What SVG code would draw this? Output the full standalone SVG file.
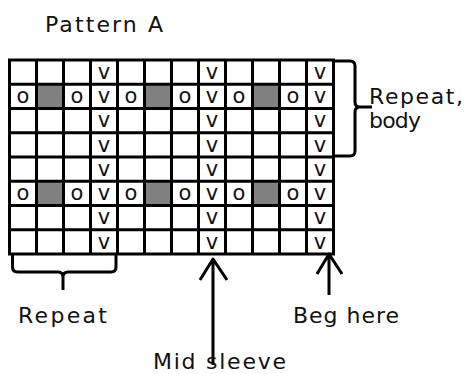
<svg xmlns="http://www.w3.org/2000/svg" width="468" height="374" viewBox="0 0 468 374">
<style>
.t{font-family:"DejaVu Sans","Liberation Sans",sans-serif;fill:#111}
.lab{font-size:22px}
.m{font-size:21px;text-anchor:middle}
.g{stroke:#000;stroke-width:3;fill:none}
.gray{fill:#808080}
.c{stroke:#000;stroke-width:3;fill:none;stroke-linecap:butt;stroke-linejoin:round}
</style>
<rect width="468" height="374" fill="#fff"/>
<text class="t lab" x="45" y="32" textLength="118" lengthAdjust="spacing">Pattern A</text>
<g id="chart">
<g id="shaded">
<rect class="gray" x="36.5" y="84.25" width="27" height="24.25"/>
<rect class="gray" x="144.5" y="84.25" width="27" height="24.25"/>
<rect class="gray" x="252.5" y="84.25" width="27" height="24.25"/>
<rect class="gray" x="36.5" y="181.25" width="27" height="24.25"/>
<rect class="gray" x="144.5" y="181.25" width="27" height="24.25"/>
<rect class="gray" x="252.5" y="181.25" width="27" height="24.25"/>
</g>
<g id="gridlines" class="g">
<path d="M9.5 60V254M36.5 60V254M63.5 60V254M90.5 60V254M117.5 60V254M144.5 60V254M171.5 60V254M198.5 60V254M225.5 60V254M252.5 60V254M279.5 60V254M306.5 60V254M333.5 60V254"/>
<path d="M8 60H335M8 84.25H335M8 108.5H335M8 132.75H335M8 157H335M8 181.25H335M8 205.5H335M8 229.75H335M8 254H335"/>
</g>
<g id="symbols" class="t m">
<text x="104" y="79">v</text><text x="212" y="79">v</text><text x="320" y="79">v</text>
<text x="23" y="103">o</text><text x="77" y="103">o</text><text x="104" y="103">v</text><text x="131" y="103">o</text><text x="185" y="103">o</text><text x="212" y="103">v</text><text x="239" y="103">o</text><text x="293" y="103">o</text><text x="320" y="103">v</text>
<text x="104" y="127">v</text><text x="212" y="127">v</text><text x="320" y="127">v</text>
<text x="104" y="152">v</text><text x="212" y="152">v</text><text x="320" y="152">v</text>
<text x="104" y="176">v</text><text x="212" y="176">v</text><text x="320" y="176">v</text>
<text x="23" y="200">o</text><text x="77" y="200">o</text><text x="104" y="200">v</text><text x="131" y="200">o</text><text x="185" y="200">o</text><text x="212" y="200">v</text><text x="239" y="200">o</text><text x="293" y="200">o</text><text x="320" y="200">v</text>
<text x="104" y="224">v</text><text x="212" y="224">v</text><text x="320" y="224">v</text>
<text x="104" y="249">v</text><text x="212" y="249">v</text><text x="320" y="249">v</text>
</g>
</g>
<g id="connectors">
<path class="c" d="M334 61H350Q355 61 355 66V102Q355 107 360 107H372M360 107Q355 107 355 112V151Q355 156 350 156H334"/>
<path class="c" d="M12.5 254V267Q12.5 272 17.5 272H58Q63 272 63 277V290M63 277Q63 272 68 272H111Q116 272 116 267V254"/>
<path class="c" d="M213 365V259M200 280L213 259L227 280"/>
<path class="c" d="M329 295V254M317 274L329 254L342 274"/>
</g>
<g id="labels" class="t lab">
<text x="369" y="104" textLength="94" lengthAdjust="spacing">Repeat,</text>
<text x="369" y="128" textLength="52" lengthAdjust="spacing">body</text>
<text x="18" y="323" textLength="89" lengthAdjust="spacing">Repeat</text>
<text x="293" y="323" textLength="106" lengthAdjust="spacing">Beg here</text>
<text x="153" y="369" textLength="133" lengthAdjust="spacing">Mid sleeve</text>
</g>
</svg>
